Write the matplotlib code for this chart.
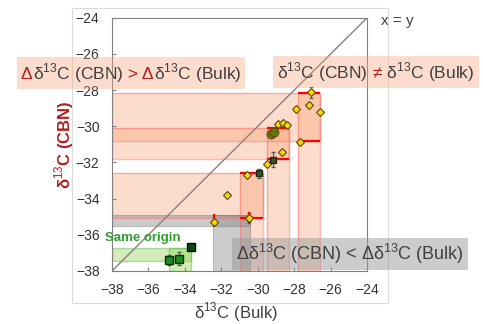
import matplotlib
matplotlib.use("Agg")
import matplotlib.pyplot as plt
from matplotlib.patches import Rectangle
from matplotlib.offsetbox import TextArea, HPacker, AnnotationBbox

plt.rcParams['font.family'] = ['Liberation Sans', 'DejaVu Sans']
plt.rcParams['mathtext.fontset'] = 'custom'
plt.rcParams['mathtext.rm'] = 'Liberation Sans'

# ---- data ----
# red groups: bulk range (x) and CBN range (y)
red_xmin = [-27.8, -29.5, -31.0]
red_xmax = [-26.6, -28.3, -29.7]
red_ymin = [-30.8, -31.8, -35.05]
red_ymax = [-28.15, -30.1, -32.6]

# gray group
gray_x = [-32.45, -30.45]
gray_y = [-35.5, -34.9]

# green group ("same origin")
green_x = [-34.9, -33.68]
green_y = [-37.45, -36.72]

# yellow diamonds
yel_bulk = [-27.07, -27.2, -27.9, -26.6, -27.7, -28.9, -28.6, -28.4,
            -28.68, -29.5, -30.57, -31.67, -32.43, -30.5]
yel_cbn = [-28.13, -28.82, -29.04, -29.23, -30.85, -29.9, -29.82, -29.95,
           -31.4, -32.08, -32.7, -33.8, -35.3, -35.07]
yel_err = [0.3, 0, 0, 0, 0, 0, 0, 0, 0, 0, 0, 0, 0, 0.25]

# olive circles
olive_bulk = [-29.25, -29.1]
olive_cbn = [-30.42, -30.3]

# dark markers
dark_bulk = [-29.14, -29.92]
dark_cbn = [-31.85, -32.6]
dark_err = [0.4, 0.25]

# green squares
sq_bulk = [-34.85, -34.3]
sq_cbn = [-37.4, -37.33]
sq_err = [0.3, 0.35]
sq2_bulk = [-33.68]
sq2_cbn = [-36.7]

# red crosses on gray group
cross_x = [-32.43, -30.5]
cross_lo = [-35.6, -35.4]
cross_hi = [-34.85, -34.75]

X0 = -38
TXT = '#404040'
DRED = '#B02020'

fig = plt.figure(figsize=(4.83, 3.24), dpi=100)
ax = fig.add_axes([0.232, 0.164, 0.528, 0.781])

sal = '#F8A070'
for x0, x1, y0, y1 in zip(red_xmin, red_xmax, red_ymin, red_ymax):
    ax.add_patch(Rectangle((X0, y0), x1 - X0, y1 - y0, facecolor=sal, alpha=0.35,
                           edgecolor='none', zorder=1))
    ax.add_patch(Rectangle((X0, y0), x1 - X0, y1 - y0, facecolor='none',
                           edgecolor='#FF6060', alpha=0.45, lw=1, zorder=1.5))
    ax.add_patch(Rectangle((x0, X0), x1 - x0, y1 - X0, facecolor=sal, alpha=0.35,
                           edgecolor='none', zorder=1))
    ax.add_patch(Rectangle((x0, X0), x1 - x0, y1 - X0, facecolor='none',
                           edgecolor='#FF6060', alpha=0.45, lw=1, zorder=1.5))
    ax.hlines([y0, y1], x0, x1, colors='#FF0000', lw=1.6, zorder=3)

ax.add_patch(Rectangle((X0, gray_y[0]), gray_x[1] - X0, gray_y[1] - gray_y[0],
                       facecolor='#808080', alpha=0.4, edgecolor='#707070', lw=0.8, zorder=1))
ax.add_patch(Rectangle((gray_x[0], X0), gray_x[1] - gray_x[0], gray_y[1] - X0,
                       facecolor='#808080', alpha=0.4, edgecolor='#707070', lw=0.8, zorder=1))

ax.add_patch(Rectangle((X0, green_y[0]), green_x[1] - X0, green_y[1] - green_y[0],
                       facecolor='#92D050', alpha=0.4, edgecolor='#40B040', lw=1, zorder=1))
ax.add_patch(Rectangle((green_x[0], X0), green_x[1] - green_x[0], green_y[1] - X0,
                       facecolor='#92D050', alpha=0.4, edgecolor='#40B040', lw=1, zorder=1))

ax.plot([-38, -24], [-38, -24], color='#8a8078', lw=1, zorder=2)

ax.vlines(cross_x, cross_lo, cross_hi, colors='#FF0000', lw=1.6, zorder=3)

ax.errorbar(yel_bulk, yel_cbn, yerr=yel_err, fmt='D', ms=4.5, mfc='#FFD700',
            mec='#5a4800', mew=0.8, ecolor='#555555', elinewidth=0.8, capsize=1.5, zorder=5)
ax.plot(olive_bulk, olive_cbn, 'o', ms=6.5, mfc='#6E7010', mec='#4a4a00', mew=0.6, zorder=5)
ax.errorbar(dark_bulk, dark_cbn, yerr=dark_err, fmt='s', ms=4.5, mfc='#3a5020',
            mec='#1a2a10', ecolor='#555555', elinewidth=0.8, capsize=1.5, zorder=5)
ax.errorbar(sq_bulk, sq_cbn, yerr=sq_err, fmt='s', ms=5.5, mfc='#1E8C1E',
            mec='#0a300a', ecolor='#555555', elinewidth=0.8, capsize=1.5, zorder=5)
ax.plot(sq2_bulk, sq2_cbn, 's', ms=5.5, mfc='#0B4A0B', mec='black', zorder=5)

ax.set_xlim(-38, -24)
ax.set_ylim(-38, -24)
ax.set_xticks(range(-38, -23, 2))
ax.set_yticks(range(-38, -23, 2))
ax.tick_params(direction='in', length=3, color='#808080', labelsize=10,
               labelcolor='#333333', pad=9)
for s in ax.spines.values():
    s.set_color('#808080')

ax.text(-23.25, -24.15, 'x = y', fontsize=11, color=TXT, va='center', ha='left',
        clip_on=False)
ax.text(-38.4, -36.2, 'Same origin', fontsize=9.5, color='#2E9E2E',
        fontweight='bold', va='center', ha='left', zorder=6)

fig.text(64 / 483, 1 - 145 / 324, r'δ$^{13}$C (CBN)', rotation=90, color=DRED,
         fontsize=12, fontweight='bold', ha='center', va='center')
fig.text(236 / 483, 1 - 312 / 324, r'δ$^{13}$C (Bulk)', color=TXT,
         fontsize=12, ha='center', va='center')

# outer chart frame
fig.add_artist(Rectangle((72 / 483, 1 - 303 / 324), 316 / 483, 295 / 324,
                         transform=fig.transFigure, fill=False,
                         edgecolor='#dcdcdc', lw=0.8))


def label_box(parts, cx, cy, fc, alpha, size=12.5):
    areas = [TextArea(t, textprops=dict(color=c, fontsize=size)) for t, c in parts]
    pack = HPacker(children=areas, align='baseline', pad=0, sep=0)
    ab = AnnotationBbox(pack, (cx, cy), xycoords='figure pixels',
                        box_alignment=(0.5, 0.5), frameon=True, pad=0.28,
                        bboxprops=dict(facecolor=fc, edgecolor='none', alpha=alpha),
                        zorder=8, annotation_clip=False)
    fig.add_artist(ab)


label_box([('Δ', DRED), (r'δ$^{13}$C (CBN)', TXT), (' > Δ', DRED),
           (r'δ$^{13}$C (Bulk)', TXT)], 131, 251, sal, 0.35)
label_box([(r'δ$^{13}$C (CBN)', TXT), (' ≠', DRED), (r' δ$^{13}$C (Bulk)', TXT)],
          376, 252, sal, 0.35)
label_box([(r'Δδ$^{13}$C (CBN) < Δδ$^{13}$C (Bulk)', TXT)], 350, 70, '#9a9a9a', 0.5,
          size=13)

fig.savefig('out.png', dpi=100)
